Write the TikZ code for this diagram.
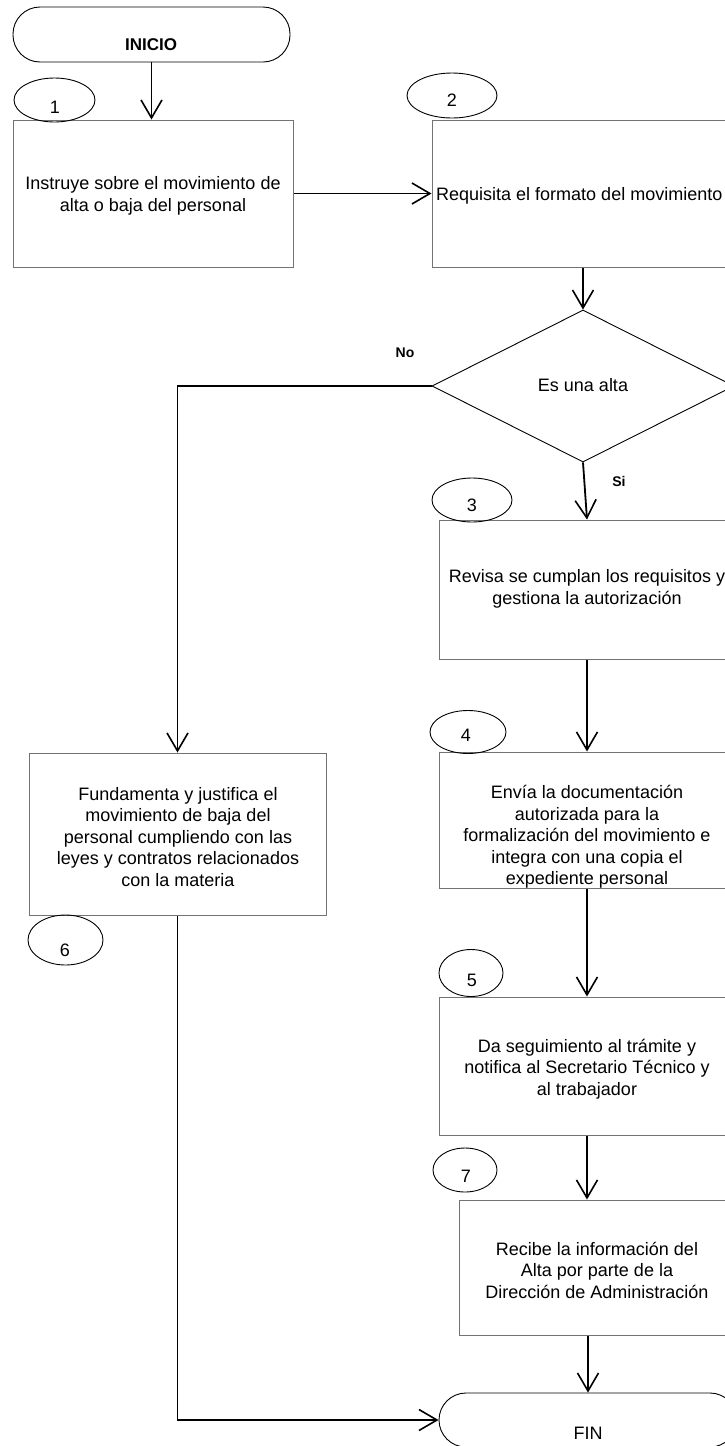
\documentclass[tikz,border=0pt]{standalone}
\usepackage{fontspec}
\setmainfont{Liberation Sans}
\usetikzlibrary{arrows.meta,shapes.geometric}
\tikzset{
  conn/.style={line width=1.8pt, draw=black},
  arr/.style={conn, -{Straight Barb[length=18pt,width=21pt,line width=1.6pt]}},
  proc/.style={draw=black!55, line width=1pt, rectangle, inner sep=0pt},
  numov/.style={draw=black, line width=0.9pt, ellipse, inner sep=0pt},
  term/.style={draw=black, line width=0.9pt, rectangle, rounded corners=27pt, inner sep=0pt},
  txt/.style={font=\fontsize{18}{21.5}\selectfont, align=center, inner sep=0pt},
  lbl/.style={font=\bfseries\fontsize{14}{16}\selectfont, inner sep=0pt}
}
\begin{document}
\begin{tikzpicture}[x=1pt,y=-1pt]
\useasboundingbox (0,0) rectangle (725,1446);
\fill[white] (0,0) rectangle (725,1446);
\clip (0,0) rectangle (725,1446);

% terminals
\node[term, minimum width=277pt, minimum height=55pt] (ini) at (151.5,34.5) {};
\node[txt, font=\bfseries\fontsize{17}{20}\selectfont] (tini) at (151,45) {INICIO};
\node[term, minimum width=298pt, minimum height=54pt] (fin) at (588,1420) {};
\node[txt] (tfin) at (588,1433) {FIN};

% process boxes
\node[proc, minimum width=280pt, minimum height=147pt] (b1) at (153,193.5) {};
\node[txt] (t1) at (153,196) {Instruye sobre el movimiento de\\alta o baja del personal};
\node[proc, minimum width=296pt, minimum height=147pt] (b2) at (580,193.5) {};
\node[txt, anchor=west] (t2) at (436,196) {Requisita el formato del movimiento};
\node[proc, minimum width=296pt, minimum height=139pt] (b3) at (587,589.5) {};
\node[txt] (t3) at (587,589) {Revisa se cumplan los requisitos y\\gestiona la autorización};
\node[proc, minimum width=296pt, minimum height=136pt] (b4) at (587,820) {};
\node[txt] (t4) at (587,837) {Envía la documentación\\autorizada para la\\formalización del movimiento e\\integra con una copia el\\expediente personal};
\node[proc, minimum width=296pt, minimum height=138pt] (b5) at (587,1066) {};
\node[txt] (t5) at (587,1069) {Da seguimiento al trámite y\\notifica al Secretario Técnico y\\al trabajador};
\node[proc, minimum width=297pt, minimum height=162pt] (b6) at (177.5,834) {};
\node[txt] (t6) at (178,837) {Fundamenta y justifica el\\movimiento de baja del\\personal cumpliendo con las\\leyes y contratos relacionados\\con la materia};
\node[proc, minimum width=276pt, minimum height=135pt] (b7) at (597,1267.5) {};
\node[txt] (t7) at (597,1270) {Recibe la información del\\Alta por parte de la\\Dirección de Administración};

% decision
\node[draw=black, line width=0.9pt, diamond, aspect=2, minimum width=302pt, minimum height=152pt, inner sep=0pt] (d) at (583,386) {};
\node[txt] (td) at (583,385) {Es una alta};
\node[lbl] (lno) at (405,353) {No};
\node[lbl] (lsi) at (619,481) {Si};

% number ovals
\node[numov, minimum width=81pt, minimum height=44pt] (o1) at (54.5,100) {};
\node[txt] (n1) at (55,107) {1};
\node[numov, minimum width=90pt, minimum height=45pt] (o2) at (452,95.5) {};
\node[txt] (n2) at (452,100) {2};
\node[numov, minimum width=80pt, minimum height=44pt] (o3) at (472,500) {};
\node[txt] (n3) at (472,505) {3};
\node[numov, minimum width=76pt, minimum height=43pt] (o4) at (468,732) {};
\node[txt] (n4) at (466,735) {4};
\node[numov, minimum width=64pt, minimum height=47pt] (o5) at (471,973) {};
\node[txt] (n5) at (472,980) {5};
\node[numov, minimum width=75pt, minimum height=50pt] (o6) at (65.5,940) {};
\node[txt] (n6) at (65,950) {6};
\node[numov, minimum width=64pt, minimum height=44pt] (o7) at (465,1170) {};
\node[txt] (n7) at (466,1176) {7};

% connectors
\draw[arr] (ini.south) -- (ini.south |- b1.north);
\draw[arr] (b1.east) -- (b2.west);
\draw[arr] (b2.south -| d.north) -- (d.north);
\draw[arr] (d.west) -| (b6.north);
\draw[arr] (d.south) -- (b3.north);
\draw[arr] (b3.south) -- (b4.north);
\draw[arr] (b4.south) -- (b5.north);
\draw[arr] (b5.south) -- (b5.south |- b7.north);
\draw[arr] (fin.north |- b7.south) -- (fin.north);
\draw[arr] (b6.south) |- (fin.west);
\end{tikzpicture}
\end{document}
